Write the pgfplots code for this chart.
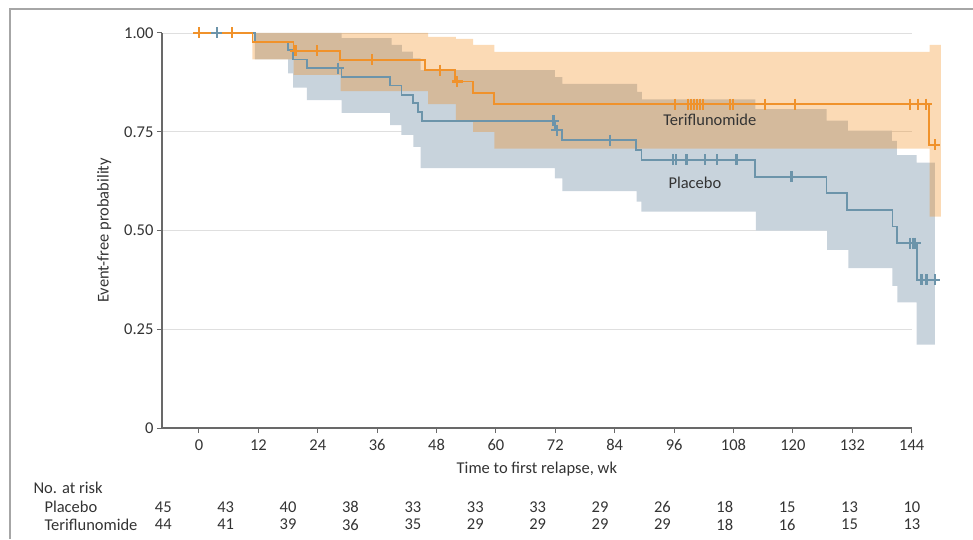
\documentclass[border=0pt]{standalone}
\usepackage{fontspec}
\setmainfont{Carlito}
\usepackage{pgfplots}
\pgfplotsset{compat=1.18}
\definecolor{torange}{RGB}{240,146,43}
\definecolor{pblue}{RGB}{108,148,170}
\definecolor{pband}{RGB}{200,211,220}
\definecolor{oband}{RGB}{241,131,11}
\definecolor{axgray}{RGB}{105,105,105}
\definecolor{txt}{RGB}{51,51,51}
\begin{document}
\begin{tikzpicture}[font=\fontsize{16.5}{19}\selectfont, x=1pt, y=1pt]
\useasboundingbox (-162,-111) rectangle (811,428);
\draw[gray!70, line width=1.2pt] (-152,-111) -- (-152,419) -- (811,419);
\begin{axis}[
  at={(0,0)}, anchor=south west,
  scale only axis, width=749.7pt, height=395pt,
  xmin=-7.47, xmax=144, ymin=0, ymax=1,
  axis lines=left, axis line style={-, axgray, line width=1.3pt},
  clip=false,
  xtick={0,12,...,144},
  ytick={0,0.25,0.5,0.75,1},
  yticklabels={0,0.25,0.50,0.75,1.00},
  tick align=outside, major tick length=5pt,
  tick style={axgray, line width=1pt},
  ymajorgrids, grid style={gray!25, line width=0.8pt},
  /pgf/number format/assume math mode=true,
  ticklabel style={text=txt},
  xticklabel style={yshift=-3pt},
  xlabel={Time to first relapse, wk},
  ylabel={Event-free probability},
  xlabel shift=4pt, ylabel shift=6pt,
  label style={text=txt},
]
% placebo CI band
\addplot[fill=pband, draw=none] coordinates {
(11.3,1.0) (28.8,1.0) (28.8,0.987) (38.9,0.987) (38.9,0.97) (41,0.97) (41,0.953) (43.2,0.953) (43.2,0.936) (44.8,0.936) (44.8,0.906) (71.9,0.906) (71.9,0.888) (73.4,0.888) (73.4,0.871) (88.5,0.871) (88.5,0.851) (89.5,0.851) (89.5,0.832) (112.4,0.832) (112.4,0.807) (126.8,0.807) (126.8,0.778) (131.1,0.778) (131.1,0.753) (140,0.753) (140,0.727) (141,0.727) (141,0.691) (145,0.691) (145,0.672) (148.7,0.672)
(148.7,0.211) (145,0.211) (145,0.318) (141.1,0.318) (141.1,0.36) (140.1,0.36) (140.1,0.405) (131.2,0.405) (131.2,0.451) (126.9,0.451) (126.9,0.50) (112.5,0.50) (112.5,0.548) (89.4,0.548) (89.4,0.573) (88.4,0.573) (88.4,0.600) (73.4,0.600) (73.4,0.632) (71.9,0.632) (71.9,0.658) (44.8,0.658) (44.8,0.712) (43.3,0.712) (43.3,0.742) (40.9,0.742) (40.9,0.767) (38.6,0.767) (38.6,0.798) (28.8,0.798) (28.8,0.830) (21.8,0.830) (21.8,0.862) (19.0,0.862) (19.0,0.898) (18.0,0.898) (18.0,0.933) (11.3,0.933)
} --cycle;
% teriflunomide CI band
\addplot[fill=oband, fill opacity=0.3, draw=none] coordinates {
(10.8,1.0) (46.3,1.0) (46.3,0.99) (51.9,0.99) (51.9,0.985) (55.4,0.985) (55.4,0.97) (59.7,0.97) (59.7,0.952) (147.6,0.952) (147.6,0.97) (149.9,0.97)
(149.9,0.535) (147.6,0.535) (147.6,0.707) (59.7,0.707) (59.7,0.75) (55.4,0.75) (55.4,0.776) (51.9,0.776) (51.9,0.82) (46.3,0.82) (46.3,0.853) (28.6,0.853) (28.6,0.894) (19.1,0.894) (19.1,0.933) (10.8,0.933)
} --cycle;
% placebo curve
\addplot[pblue, line width=1.8pt] coordinates {
(0,1) (11.3,1) (11.3,0.978) (18,0.978) (18,0.956) (19,0.956) (19,0.933) (21.8,0.933) (21.8,0.911) (28.8,0.911) (28.8,0.889) (38.6,0.889) (38.6,0.867) (40.9,0.867) (40.9,0.844) (43.3,0.844) (43.3,0.822) (44.2,0.822) (44.2,0.800) (45,0.800) (45,0.778) (71.9,0.778) (71.9,0.754) (73.3,0.754) (73.3,0.729) (88.3,0.729) (88.3,0.704) (89.4,0.704) (89.4,0.679) (112.3,0.679) (112.3,0.636) (126.8,0.636) (126.8,0.594) (131,0.594) (131,0.552) (140.1,0.552) (140.1,0.51) (141.1,0.51) (141.1,0.468) (145,0.468) (145,0.375) (149.7,0.375)
};
\addplot[only marks, mark=+, mark size=5.5pt, pblue, mark options={line width=2.3pt}] coordinates {
(3.6,1) (28.1,0.911) (71.6,0.778) (72.3,0.754) (83,0.729) (95.8,0.679) (96.4,0.679) (98.5,0.679) (102.2,0.679) (104.6,0.679) (108.6,0.679) (119.7,0.636) (143.6,0.468) (144.2,0.468) (144.7,0.468) (146,0.375) (147,0.375) (148.7,0.375)
};
% teriflunomide curve
\addplot[torange, line width=1.8pt] coordinates {
(0,1) (10.8,1) (10.8,0.977) (19.1,0.977) (19.1,0.955) (28.5,0.955) (28.5,0.932) (45.7,0.932) (45.7,0.906) (51.7,0.906) (51.7,0.877) (55.4,0.877) (55.4,0.849) (59.6,0.849) (59.6,0.820) (147.5,0.820) (147.5,0.717) (149.7,0.717)
};
\addplot[only marks, mark=+, mark size=5.5pt, torange, mark options={line width=2.3pt}] coordinates {
(0,1) (6.7,1) (19.5,0.955) (23.8,0.955) (34.9,0.932) (48.7,0.906) (52.2,0.877) (96.2,0.82) (98.8,0.82) (99.4,0.82) (100,0.82) (100.6,0.82) (101.2,0.82) (101.8,0.82) (107.3,0.82) (107.9,0.82) (114.3,0.82) (120.4,0.82) (143.6,0.82) (145.2,0.82) (146.9,0.82) (148.7,0.717)
};
\node[text=txt] at (axis cs:103.2,0.78) {Teriflunomide};
\node[text=txt] at (axis cs:100.2,0.62) {Placebo};
\end{axis}
\node[anchor=west, text=txt] at (-132,-60) {No. at risk};
\node[anchor=west, text=txt] at (-121,-79) {Placebo};
\node[anchor=west, text=txt] at (-121,-96.5) {Teriflunomide};
\foreach \v [count=\i from 0] in {45,43,40,38,33,33,33,29,26,18,15,13,10}
  \node[text=txt] at ({1.3+62.39*\i},-79) {\v};
\foreach \v [count=\i from 0] in {44,41,39,36,35,29,29,29,29,18,16,15,13}
  \node[text=txt] at ({1.3+62.39*\i},-96.5) {\v};
\end{tikzpicture}
\end{document}
